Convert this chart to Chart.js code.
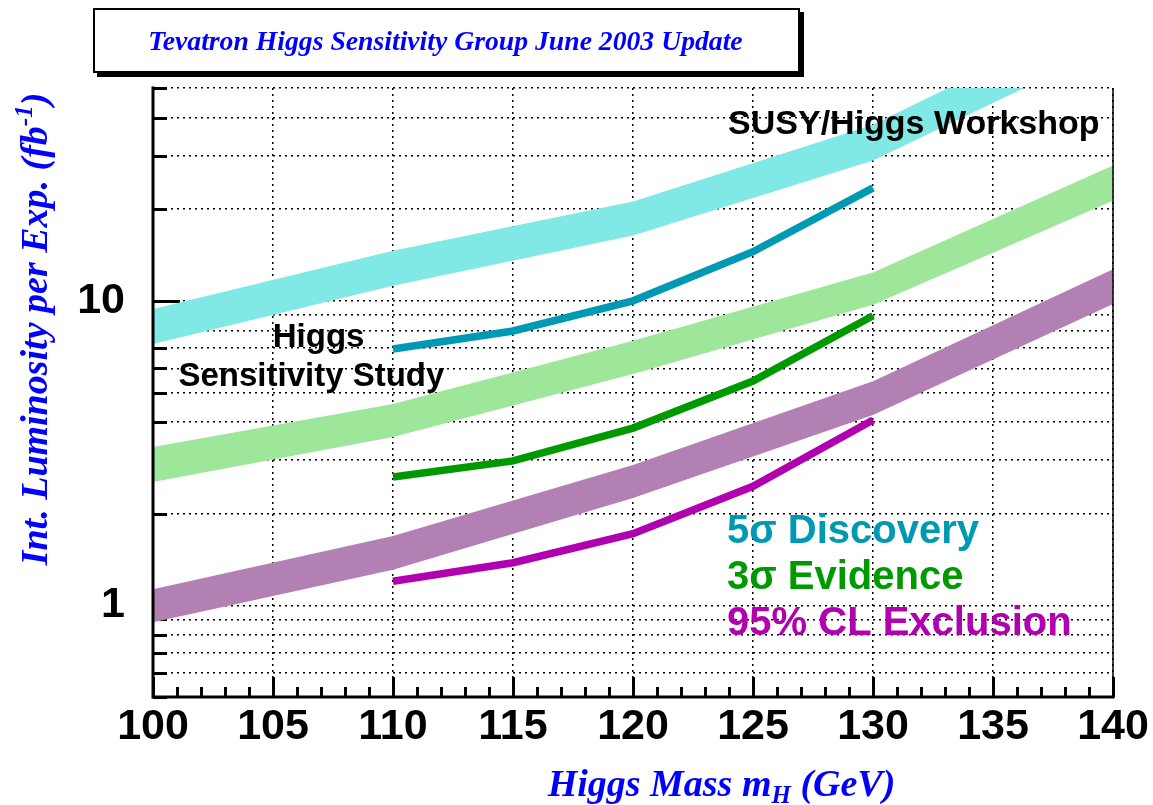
<!DOCTYPE html>
<html>
<head>
<meta charset="utf-8">
<script src="https://cdn.jsdelivr.net/npm/chart.js@4.4.1/dist/chart.umd.min.js"></script>
<style>
  html, body { margin: 0; padding: 0; background: #ffffff; }
  #wrap { width: 1153px; height: 805px; }
</style>
</head>
<body>
<div id="wrap"><canvas id="lumi" width="1153" height="805"></canvas></div>
<script>
// Higgs masses (GeV) where the bands and the curves are defined
const bandMass  = [100, 110, 120, 130, 140];
const studyMass = [110, 115, 120, 125, 130];

// SUSY/Higgs Workshop bands: upper and lower edges, integrated luminosity per experiment (fb^-1)
const workshopDiscoveryHigh = [9.41, 14.6, 21.2, 37.9, 92.0];
const workshopDiscoveryLow  = [7.22, 11.2, 16.4, 28.9, 69.0];
const workshopEvidenceHigh  = [3.31, 4.58, 7.39, 12.4, 27.8];
const workshopEvidenceLow   = [2.54, 3.57, 5.75, 9.70, 21.3];
const workshopExclusionHigh = [1.13, 1.69, 2.89, 5.44, 12.7];
const workshopExclusionLow  = [0.88, 1.31, 2.25, 4.22, 9.77];

// Higgs Sensitivity Study curves (fb^-1)
const studyDiscovery = [6.95, 7.96, 10.0, 14.5, 23.5];
const studyEvidence  = [2.64, 2.98, 3.82, 5.45, 8.93];
const studyExclusion = [1.20, 1.38, 1.72, 2.46, 4.06];

// Axis ticks
const xTicks     = [100, 105, 110, 115, 120, 125, 130, 135, 140];
const xMinorStep = 1;
const yTicks     = [0.5, 0.6, 0.7, 0.8, 0.9, 1, 2, 3, 4, 5, 6, 7, 8, 9, 10, 20, 30, 40, 50];
const yLabelled  = [1, 10];

const colors = {
  cyanBand:   '#80e8e5',
  teal:       '#0099b3',
  greenBand:  '#9ee69a',
  green:      '#009900',
  purpleBand: '#b280b2',
  magenta:    '#b000b0',
  blue:       '#0000ff'
};

const SANS  = '"Liberation Sans", Arial, Helvetica, sans-serif';
const SERIF = '"Liberation Serif", "Times New Roman", serif';

// Text placed inside the plot, anchored in data coordinates (mass, luminosity)
const notes = [
  { text: 'SUSY/Higgs Workshop', mass: 123.96, lumi: 35.4, align: 'left',   color: '#000000',      size: 34 },
  { text: 'Higgs',               mass: 106.9,  lumi: 7.06, align: 'center', color: '#000000',      size: 33 },
  { text: 'Sensitivity Study',   mass: 106.6,  lumi: 5.25, align: 'center', color: '#000000',      size: 33 },
  { text: '5\u03c3 Discovery',   mass: 123.92, lumi: 1.60, align: 'left',   color: colors.teal,    size: 40 },
  { text: '3\u03c3 Evidence',    mass: 123.92, lumi: 1.13, align: 'left',   color: colors.green,   size: 40 },
  { text: '95% CL Exclusion',    mass: 123.92, lumi: 0.80, align: 'left',   color: colors.magenta, size: 40 }
];

function points(xs, ys) {
  return xs.map((x, i) => ({ x: x, y: ys[i] }));
}

function bandPair(high, low, color) {
  return [
    { data: points(bandMass, high), fill: '+1', backgroundColor: color, borderColor: 'transparent',
      borderWidth: 0, pointRadius: 0, order: 2 },
    { data: points(bandMass, low), fill: false, borderColor: 'transparent',
      borderWidth: 0, pointRadius: 0, order: 2 }
  ];
}

function curve(values, color) {
  return { data: points(studyMass, values), fill: false, borderColor: color, borderWidth: 7.5,
           pointRadius: 0, tension: 0, borderCapStyle: 'butt', borderJoinStyle: 'miter', order: 1 };
}

// Inward tick marks, solid axes, annotations and titles
const framePlugin = {
  id: 'frame',
  beforeDatasetsDraw(chart) {
    const { ctx, chartArea: a, scales: { x, y } } = chart;
    ctx.save();
    ctx.strokeStyle = '#000';
    ctx.lineWidth = 3;
    ctx.beginPath();
    yTicks.forEach(v => {
      const py = Math.round(y.getPixelForValue(v)) + 0.5;
      const len = yLabelled.includes(v) ? 27 : 14;
      ctx.moveTo(a.left, py);
      ctx.lineTo(a.left + len, py);
    });
    for (let m = x.min; m <= x.max + 1e-9; m += xMinorStep) {
      const px = Math.round(x.getPixelForValue(m)) + 0.5;
      const len = xTicks.includes(m) ? 20 : 10;
      ctx.moveTo(px, a.bottom);
      ctx.lineTo(px, a.bottom - len);
    }
    ctx.stroke();
    ctx.restore();
  },
  afterDatasetsDraw(chart) {
    const { ctx, chartArea: a, scales: { x, y } } = chart;
    ctx.save();
    // right frame edge
    ctx.strokeStyle = '#000';
    ctx.lineWidth = 1.5;
    ctx.beginPath();
    ctx.moveTo(a.right, a.top);
    ctx.lineTo(a.right, a.bottom);
    ctx.stroke();
    // left and bottom axes
    ctx.lineWidth = 3;
    ctx.lineCap = 'square';
    ctx.beginPath();
    ctx.moveTo(a.left, a.top);
    ctx.lineTo(a.left, a.bottom);
    ctx.lineTo(a.right, a.bottom);
    ctx.stroke();
    // annotations
    ctx.textBaseline = 'alphabetic';
    notes.forEach(n => {
      ctx.font = `bold ${n.size}px ${SANS}`;
      ctx.fillStyle = n.color;
      ctx.textAlign = n.align;
      ctx.fillText(n.text, x.getPixelForValue(n.mass), y.getPixelForValue(n.lumi));
    });
    ctx.restore();
  },
  afterDraw(chart) {
    const { ctx } = chart;
    ctx.save();
    // title box with drop shadow
    const bx = 93, by = 8, bw = 707, bh = 65;
    ctx.fillStyle = '#000';
    ctx.fillRect(bx + 4, by + 4, bw, bh);
    ctx.fillStyle = '#fff';
    ctx.fillRect(bx, by, bw, bh);
    ctx.strokeStyle = '#000';
    ctx.lineWidth = 2;
    ctx.strokeRect(bx + 1, by + 1, bw - 2, bh - 2);
    ctx.fillStyle = colors.blue;
    ctx.font = `italic bold 27.7px ${SERIF}`;
    ctx.textAlign = 'center';
    ctx.textBaseline = 'alphabetic';
    ctx.fillText('Tevatron Higgs Sensitivity Group June 2003 Update', bx + bw / 2 - 1, 50);

    // x axis title with subscript
    const big = `italic bold 38px ${SERIF}`;
    const small = `italic bold 25px ${SERIF}`;
    ctx.textAlign = 'left';
    const xParts = [
      { t: 'Higgs Mass m', f: big, dy: 0 },
      { t: 'H', f: small, dy: 7 },
      { t: ' (GeV)', f: big, dy: 0 }
    ];
    let total = 0;
    xParts.forEach(p => { ctx.font = p.f; p.w = ctx.measureText(p.t).width; total += p.w; });
    let cx = 721.5 - total / 2;
    xParts.forEach(p => { ctx.font = p.f; ctx.fillText(p.t, cx, 796 + p.dy); cx += p.w; });

    // y axis title with superscript
    const yParts = [
      { t: 'Int. Luminosity per Exp. (fb', f: big, dy: 0 },
      { t: '-1', f: small, dy: -15 },
      { t: ')', f: big, dy: 0 }
    ];
    total = 0;
    yParts.forEach(p => { ctx.font = p.f; p.w = ctx.measureText(p.t).width; total += p.w; });
    ctx.translate(47, 329);
    ctx.rotate(-Math.PI / 2);
    cx = -total / 2;
    yParts.forEach(p => { ctx.font = p.f; ctx.fillText(p.t, cx, p.dy); cx += p.w; });
    ctx.restore();
  }
};

new Chart(document.getElementById('lumi'), {
  type: 'line',
  data: {
    datasets: [
      ...bandPair(workshopDiscoveryHigh, workshopDiscoveryLow, colors.cyanBand),
      ...bandPair(workshopEvidenceHigh, workshopEvidenceLow, colors.greenBand),
      ...bandPair(workshopExclusionHigh, workshopExclusionLow, colors.purpleBand),
      curve(studyDiscovery, colors.teal),
      curve(studyEvidence, colors.green),
      curve(studyExclusion, colors.magenta)
    ]
  },
  options: {
    responsive: false,
    animation: false,
    events: [],
    layout: { padding: { left: 0, right: 40, top: 88, bottom: 0 } },
    plugins: { legend: { display: false }, tooltip: { enabled: false }, title: { display: false } },
    scales: {
      x: {
        type: 'linear',
        min: 100,
        max: 140,
        afterBuildTicks: s => { s.ticks = xTicks.map(v => ({ value: v })); },
        afterFit: s => { s.height = 108; },
        ticks: { color: '#000', font: { family: SANS, size: 43, weight: 'bold' }, padding: 4,
                 maxRotation: 0, autoSkip: false },
        grid: { color: '#000', lineWidth: 1.5, drawTicks: false },
        border: { display: false, dash: [2, 4] }
      },
      y: {
        type: 'logarithmic',
        min: 0.5,
        max: 50,
        afterBuildTicks: s => { s.ticks = yTicks.map(v => ({ value: v })); },
        afterFit: s => { s.width = 153; },
        ticks: { color: '#000', font: { family: SANS, size: 43, weight: 'bold' }, padding: 28,
                 autoSkip: false, callback: v => (yLabelled.includes(v) ? String(v) : '') },
        grid: { color: '#000', lineWidth: 1.5, drawTicks: false },
        border: { display: false, dash: [2, 4] }
      }
    }
  },
  plugins: [framePlugin]
});
</script>
</body>
</html>
